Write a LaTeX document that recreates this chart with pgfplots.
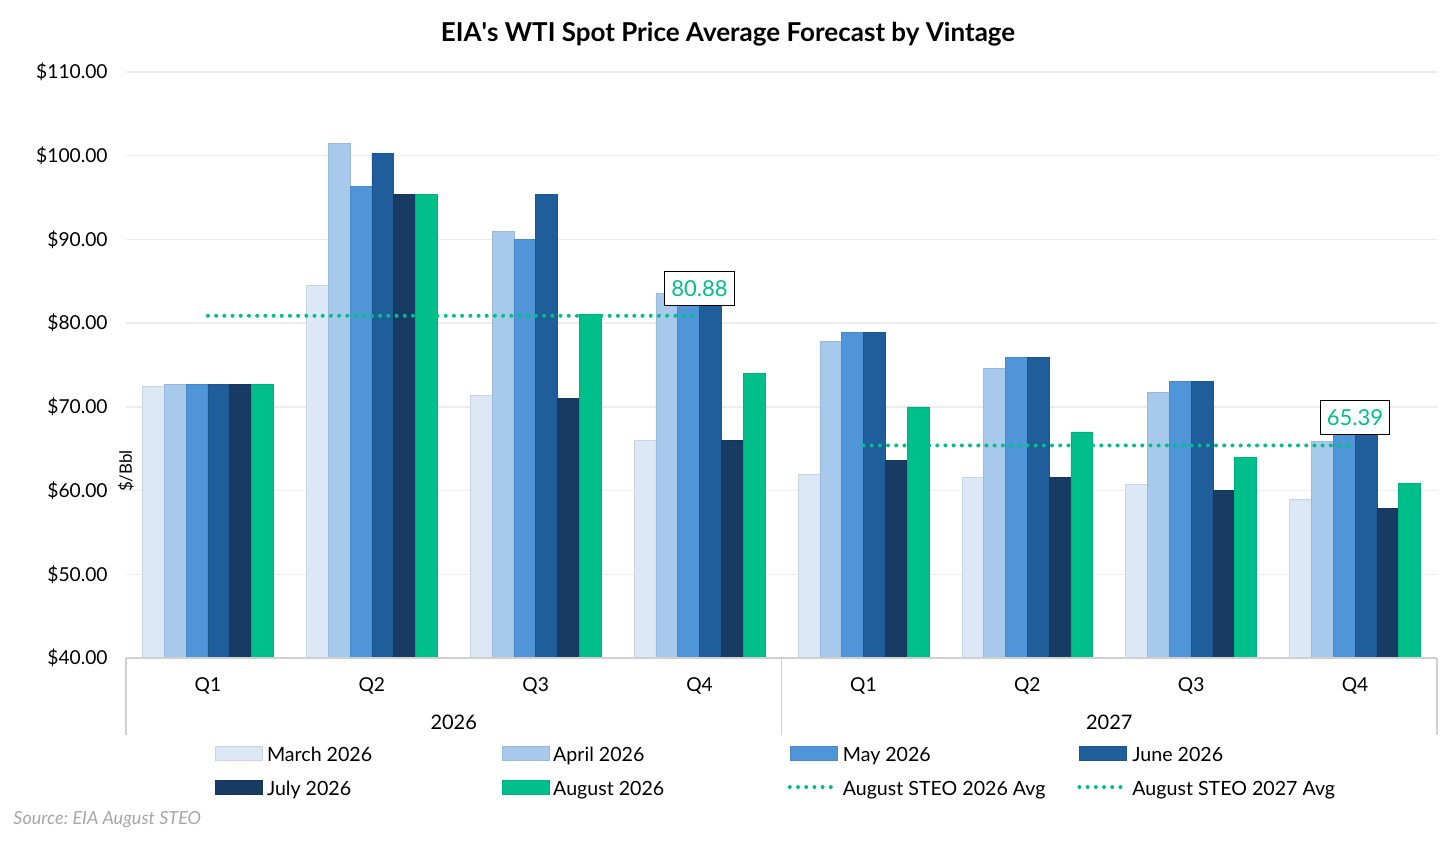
\documentclass[border=0pt]{standalone}
\usepackage{fontspec}
\setmainfont{Lato}
\usepackage{pgfplots}
\pgfplotsset{compat=1.18}
\definecolor{cMar}{HTML}{DCE8F5}
\definecolor{cApr}{HTML}{A7C9EC}
\definecolor{cMay}{HTML}{5095D8}
\definecolor{cJun}{HTML}{1F5E9B}
\definecolor{cJul}{HTML}{173B62}
\definecolor{cAug}{HTML}{00BF8A}
\definecolor{gridc}{HTML}{EDEDED}
\definecolor{axc}{HTML}{D0D0D0}
\definecolor{srcc}{HTML}{A6A6A6}
\pgfplotsset{
  barimg/.style={legend image code/.code={\draw[##1] (0pt,-2pt) rectangle (23.5pt,5pt);}},
  lineimg/.style={legend image code/.code={\draw[##1] (0pt,1.5pt) -- (23.5pt,1.5pt);}},
  avgline/.style={color=cAug, line width=2pt, line cap=round, dash pattern=on 0pt off 4.1pt, mark=none},
}
\newcommand{\lent}[1]{\makebox[119.3pt][l]{\hspace{2pt}#1}}
\frenchspacing
\begin{document}
\begin{tikzpicture}
\begin{axis}[name=ax, scale only axis, width=655.5pt, height=293pt,
  xmin=-0.5, xmax=7.5, ymin=40, ymax=110,
  ytick={40,50,60,70,80,90,100,110},
  xtick={0,1,2,3,4,5,6,7}, xticklabels={Q1,Q2,Q3,Q4,Q1,Q2,Q3,Q4},
  ymajorgrids, grid style={draw=gridc, line width=0.7pt},
  axis line style={draw=none}, major tick length=0pt,
  clip mode=individual,
  font=\fontsize{10}{12}\selectfont,
  ticklabel style={font=\fontsize{9.6}{12}\selectfont},
  /pgf/number format/assume math mode=true,
  yticklabel={\$\pgfmathprintnumber[fixed,fixed zerofill,precision=2]{\tick}},
  yticklabel style={anchor=east, inner sep=0pt, xshift=-9pt},
  xticklabel style={anchor=base, inner sep=0pt, yshift=-16.5pt},
  legend columns=4, legend cell align=left,
  legend style={at={(rel axis cs:0.0679,-0.1503)}, anchor=north west, draw=none, fill=none,
    column sep=0pt, row sep=7pt, inner sep=0pt,
    nodes={inner sep=0pt, text height=7pt, text depth=2pt},
    font=\fontsize{9.8}{12}\selectfont},
]
\addplot[ybar, bar width=10.9pt, bar shift=-27.25pt, fill=cMar, draw=cMar!92!black, line width=0.3pt, barimg]
  coordinates {(0,72.5) (1,84.5) (2,71.4) (3,66.0) (4,62.0) (5,61.6) (6,60.7) (7,59.0)};
\addlegendentry{\lent{March 2026}}
\addplot[ybar, bar width=10.9pt, bar shift=-16.35pt, fill=cApr, draw=cApr!92!black, line width=0.3pt, barimg]
  coordinates {(0,72.7) (1,101.5) (2,91.0) (3,83.6) (4,77.8) (5,74.6) (6,71.7) (7,65.9)};
\addlegendentry{\lent{April 2026}}
\addplot[ybar, bar width=10.9pt, bar shift=-5.45pt, fill=cMay, draw=cMay!92!black, line width=0.3pt, barimg]
  coordinates {(0,72.7) (1,96.3) (2,90.0) (3,84.0) (4,78.9) (5,75.9) (6,73.0) (7,67.5)};
\addlegendentry{\lent{May 2026}}
\addplot[ybar, bar width=10.9pt, bar shift=5.45pt, fill=cJun, draw=cJun!92!black, line width=0.3pt, barimg]
  coordinates {(0,72.7) (1,100.3) (2,95.4) (3,84.0) (4,78.9) (5,75.9) (6,73.0) (7,67.5)};
\addlegendentry{\lent{June 2026}}
\addplot[ybar, bar width=10.9pt, bar shift=16.35pt, fill=cJul, draw=cJul!92!black, line width=0.3pt, barimg]
  coordinates {(0,72.7) (1,95.4) (2,71.0) (3,66.0) (4,63.6) (5,61.6) (6,60.0) (7,57.9)};
\addlegendentry{\lent{July 2026}}
\addplot[ybar, bar width=10.9pt, bar shift=27.25pt, fill=cAug, draw=cAug!92!black, line width=0.3pt, barimg]
  coordinates {(0,72.7) (1,95.4) (2,81.1) (3,74.0) (4,70.0) (5,67.0) (6,64.0) (7,60.9)};
\addlegendentry{\lent{August 2026}}
\addplot[avgline, lineimg] coordinates {(0,80.88) (3,80.88)};
\addlegendentry{\lent{August STEO 2026 Avg}}
\addplot[avgline, lineimg] coordinates {(4,65.39) (7,65.39)};
\addlegendentry{\lent{August STEO 2027 Avg}}
% axis decorations
\draw[axc, line width=0.8pt] (rel axis cs:0,0) -- (rel axis cs:1,0);
\draw[axc, line width=0.8pt] (rel axis cs:0,0) -- ([yshift=-38.5pt]rel axis cs:0,0);
\draw[axc, line width=0.8pt] (axis cs:3.5,40) -- ([yshift=-38.5pt]axis cs:3.5,40);
\draw[axc, line width=0.8pt] (rel axis cs:1,0) -- ([yshift=-38.5pt]rel axis cs:1,0);
\node[anchor=base, inner sep=0pt, yshift=-35.6pt] at (axis cs:1.5,40) {2026};
\node[anchor=base, inner sep=0pt, yshift=-35.6pt] at (axis cs:5.5,40) {2027};
% value labels
\node[draw=black, line width=0.6pt, fill=white, text=cAug, font=\fontsize{11}{13}\selectfont,
  anchor=south, inner xsep=3.3pt, inner ysep=0pt, minimum height=17pt, yshift=5pt] at (axis cs:3,80.88) {80.88};
\node[draw=black, line width=0.6pt, fill=white, text=cAug, font=\fontsize{11}{13}\selectfont,
  anchor=south, inner xsep=3.3pt, inner ysep=0pt, minimum height=17pt, yshift=5pt] at (axis cs:7,65.39) {65.39};
% title, y label, source
\node[anchor=base, inner sep=0pt, xshift=301pt, yshift=15.5pt, font=\bfseries\fontsize{13}{15}\selectfont] at (rel axis cs:0,1) {EIA\textquotesingle s WTI Spot Price Average Forecast by Vintage};
\node[rotate=90, anchor=center, inner sep=0pt, xshift=-53pt, font=\fontsize{8.5}{10}\selectfont] at (rel axis cs:0,0.5) {\$/Bbl};
\node[anchor=base west, inner sep=0pt, xshift=-56.5pt, yshift=-83.2pt, text=srcc, font=\itshape\fontsize{9}{11}\selectfont] at (rel axis cs:0,0) {Source: EIA August STEO};
\end{axis}
\pgfresetboundingbox
\path[use as bounding box] ([shift={(-63pt,-91.5pt)}]ax.south west) rectangle ([shift={(665pt,329pt)}]ax.south west);
\end{tikzpicture}
\end{document}
